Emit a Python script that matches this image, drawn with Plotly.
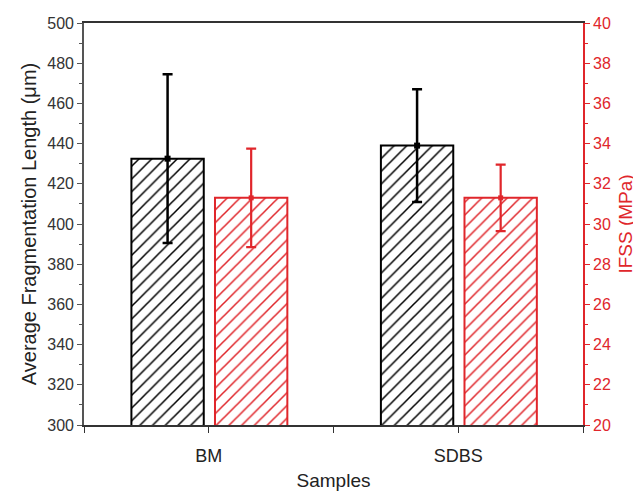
import plotly.graph_objects as go

samples = ["BM", "SDBS"]
frag_length = [432.5, 439.0]
frag_err = [42.0, 28.0]
ifss = [31.3, 31.3]
ifss_err = [2.45, 1.65]

BLACK = "#000000"
RED = "#E0262B"
FONT = "Liberation Sans, Arial, sans-serif"

xpos = list(range(len(samples)))
BW = 0.29
OFF_B = -0.31
OFF_R = 0.025

fig = go.Figure()
fig.add_trace(go.Bar(
    x=xpos, y=frag_length, width=BW, offset=OFF_B, base=0,
    marker=dict(color="white", opacity=1, line=dict(color=BLACK, width=2),
                pattern=dict(shape="/", fgcolor=BLACK, fgopacity=1, bgcolor="white",
                             fillmode="replace", size=9, solidity=0.17)),
    showlegend=False, yaxis="y"))
fig.add_trace(go.Bar(
    x=xpos, y=ifss, width=BW, offset=OFF_R, base=0,
    marker=dict(color="white", opacity=1, line=dict(color=RED, width=2),
                pattern=dict(shape="/", fgcolor=RED, fgopacity=1, bgcolor="white",
                             fillmode="replace", size=9, solidity=0.17)),
    showlegend=False, yaxis="y2"))
fig.add_trace(go.Scatter(
    x=[p + OFF_B + BW / 2 for p in xpos], y=frag_length, mode="markers",
    marker=dict(symbol="square", size=6, color=BLACK),
    error_y=dict(type="data", array=frag_err, color=BLACK, thickness=2.5, width=5),
    showlegend=False, yaxis="y", cliponaxis=False))
fig.add_trace(go.Scatter(
    x=[p + OFF_R + BW / 2 for p in xpos], y=ifss, mode="markers",
    marker=dict(symbol="square", size=5, color=RED),
    error_y=dict(type="data", array=ifss_err, color=RED, thickness=2.2, width=5),
    showlegend=False, yaxis="y2", cliponaxis=False))

fig.update_layout(
    width=633, height=483,
    margin=dict(l=76, r=58, t=15, b=66),
    paper_bgcolor="white", plot_bgcolor="white",
    font=dict(family=FONT, size=16, color="#222222"),
    barmode="overlay",
    xaxis=dict(
        range=[-0.5, 1.5],
        tickvals=[-0.5, 0, 0.5, 1, 1.5],
        ticktext=["", samples[0], "", samples[1], ""],
        ticks="outside", ticklen=6, tickwidth=1.3, tickcolor="#333333",
        showline=True, linecolor="#333333", linewidth=1.6, mirror=True,
        showgrid=False, zeroline=False, automargin=False,
        ticklabelstandoff=8,
        tickfont=dict(size=18, family=FONT, color="#222222"),
        title=dict(text="Samples", font=dict(size=19, family=FONT, color="#222222"), standoff=8),
    ),
    yaxis=dict(
        range=[300, 500], tick0=300, dtick=20,
        ticks="outside", ticklen=5, tickwidth=1.3, tickcolor="#555555",
        minor=dict(ticks="outside", ticklen=3, dtick=10, tickcolor="#555555", tickwidth=1),
        showline=True, linecolor="#555555", linewidth=1.6,
        showgrid=False, zeroline=False, automargin=False,
        tickfont=dict(size=16, family=FONT, color="#333333"),
        title=dict(text="Average Fragmentation Length (\u03bcm)", font=dict(size=20, family=FONT, color="#222222"), standoff=5),
    ),
    yaxis2=dict(
        range=[20, 40], tick0=20, dtick=2, overlaying="y", side="right",
        ticks="outside", ticklen=5, tickwidth=1.3, tickcolor=RED,
        minor=dict(ticks="outside", ticklen=3, dtick=1, tickcolor=RED, tickwidth=1),
        showline=True, linecolor=RED, linewidth=1.6,
        showgrid=False, zeroline=False, automargin=False,
        tickfont=dict(size=16, family=FONT, color=RED),
        title=dict(text="IFSS (MPa)", font=dict(size=19, family=FONT, color=RED), standoff=9),
    ),
)

fig.write_html("out.html")
